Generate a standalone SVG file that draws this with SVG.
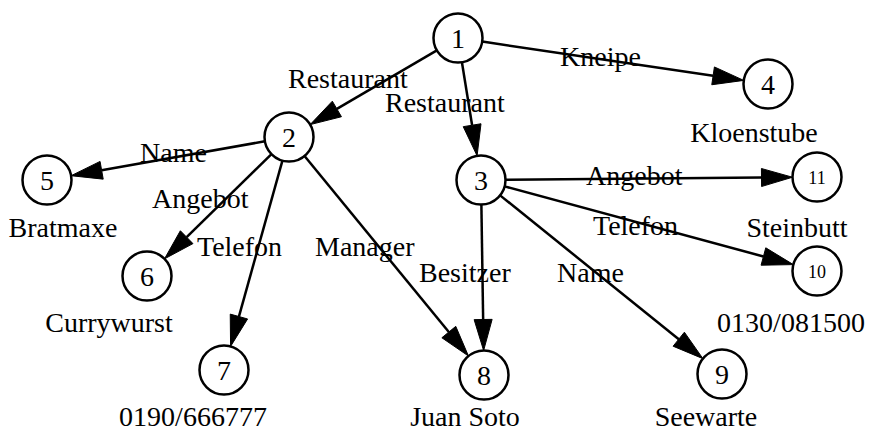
<svg xmlns="http://www.w3.org/2000/svg" width="869" height="433" viewBox="0 0 869 433">
<style>
text{font-family:"Liberation Serif","Times New Roman",serif;font-size:28px;fill:#000}
.n circle{fill:#fff;stroke:#000;stroke-width:2.5}
.n text{text-anchor:middle}
.sm{font-size:18px}
#edges line{stroke:#000;stroke-width:2.5}
#edges polygon{fill:#000;stroke:#000;stroke-width:1}
</style>
<rect width="869" height="433" fill="#fff"/>
<g id="edges">
<line x1="436.86" y1="50.38" x2="336.89" y2="108.95"/><polygon points="310.14,124.62 332.34,101.18 341.44,116.72"/>
<line x1="461.92" y1="62.18" x2="472.12" y2="125.22"/><polygon points="477.08,155.82 463.24,126.66 481,123.78"/>
<line x1="482.24" y1="41.6" x2="713.09" y2="75.85"/><polygon points="743.76,80.4 711.77,84.75 714.41,66.95"/>
<line x1="264.88" y1="141.29" x2="101.64" y2="170.29"/><polygon points="71.12,175.71 100.07,161.43 103.21,179.15"/>
<line x1="271.49" y1="154.14" x2="186.66" y2="237.18"/><polygon points="164.51,258.86 180.36,230.75 192.96,243.61"/>
<line x1="282.42" y1="160.6" x2="238.91" y2="316.54"/><polygon points="230.58,346.4 230.24,314.12 247.58,318.96"/>
<line x1="304.53" y1="155.95" x2="448.82" y2="332.07"/><polygon points="468.47,356.05 441.86,337.77 455.78,326.37"/>
<line x1="481.38" y1="204.5" x2="483.14" y2="319.5"/><polygon points="483.62,350.5 474.14,319.64 492.14,319.36"/>
<line x1="500.09" y1="195.36" x2="678.76" y2="339.2"/><polygon points="702.91,358.64 673.12,346.21 684.4,332.19"/>
<line x1="504.65" y1="186.4" x2="763.43" y2="256.5"/><polygon points="793.35,264.6 761.08,265.19 765.78,247.81"/>
<line x1="505.5" y1="179.78" x2="761.5" y2="177.5"/><polygon points="792.5,177.22 761.58,186.5 761.42,168.5"/>
</g>
<g id="edge-labels">
<text x="288" y="88">Restaurant</text>
<text x="385" y="112">Restaurant</text>
<text x="560" y="66">Kneipe</text>
<text x="140" y="162">Name</text>
<text x="152" y="208">Angebot</text>
<text x="197" y="256">Telefon</text>
<text x="315" y="256">Manager</text>
<text x="419" y="282">Besitzer</text>
<text x="557" y="282">Name</text>
<text x="593" y="235">Telefon</text>
<text x="586" y="185">Angebot</text>
</g>
<g id="n1" class="n"><circle cx="458" cy="38" r="24.5"/><text x="458" y="47.5">1</text></g>
<g id="n2" class="n"><circle cx="289" cy="137" r="24.5"/><text x="289" y="146.5">2</text></g>
<g id="n3" class="n"><circle cx="481" cy="180" r="24.5"/><text x="481" y="189.5">3</text></g>
<g id="n4" class="n"><circle cx="768" cy="84" r="24.5"/><text x="768" y="93.5">4</text><text x="754" y="142">Kloenstube</text></g>
<g id="n5" class="n"><circle cx="47" cy="180" r="24.5"/><text x="47" y="189.5">5</text><text x="63" y="237">Bratmaxe</text></g>
<g id="n6" class="n"><circle cx="147" cy="276" r="24.5"/><text x="147" y="285.5">6</text><text x="109" y="332">Currywurst</text></g>
<g id="n7" class="n"><circle cx="224" cy="370" r="24.5"/><text x="224" y="379.5">7</text><text x="193" y="426">0190/666777</text></g>
<g id="n8" class="n"><circle cx="484" cy="375" r="24.5"/><text x="484" y="384.5">8</text><text x="465" y="426">Juan Soto</text></g>
<g id="n9" class="n"><circle cx="722" cy="374" r="24.5"/><text x="722" y="383.5">9</text><text x="706" y="426">Seewarte</text></g>
<g id="n10" class="n"><circle cx="817" cy="271" r="24.5"/><text class="sm" x="817" y="277.5">10</text><text x="791" y="332">0130/081500</text></g>
<g id="n11" class="n"><circle cx="817" cy="177" r="24.5"/><text class="sm" x="817" y="183.5">11</text><text x="797" y="237">Steinbutt</text></g>
</svg>
